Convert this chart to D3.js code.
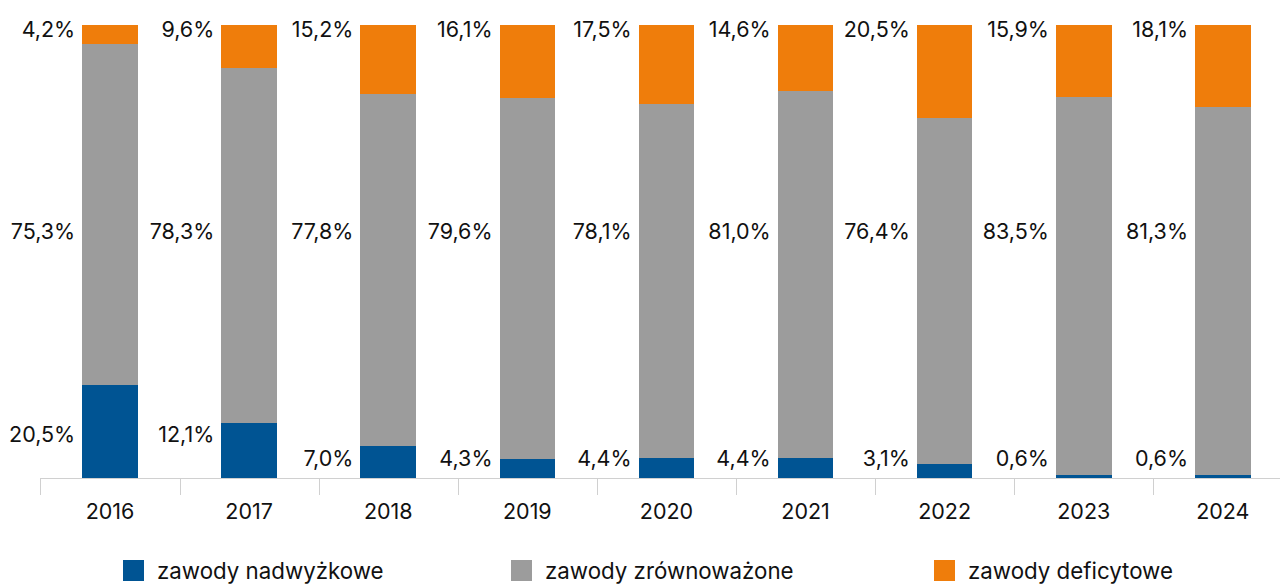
<!DOCTYPE html>
<html>
<head>
<meta charset="utf-8">
<script src="https://cdn.jsdelivr.net/npm/d3@7"></script>
<style>
  html, body { margin: 0; padding: 0; background: #fff; }
  #chart { width: 1280px; height: 584px; overflow: hidden; }
  text { font-family: Inter, "Noto Sans", sans-serif; fill: #111; }
</style>
</head>
<body>
<div id="chart"></div>
<script>
// Data
const years = ['2016', '2017', '2018', '2019', '2020', '2021', '2022', '2023', '2024'];
const seriesNames = ['zawody nadwyżkowe', 'zawody zrównoważone', 'zawody deficytowe'];
const nadwyzkowe = [20.5, 12.1, 7.0, 4.3, 4.4, 4.4, 3.1, 0.6, 0.6];
const zrownowazone = [75.3, 78.3, 77.8, 79.6, 78.1, 81.0, 76.4, 83.5, 81.3];
const deficytowe = [4.2, 9.6, 15.2, 16.1, 17.5, 14.6, 20.5, 15.9, 18.1];
const colors = ['#005493', '#9c9c9c', '#ef7d0b'];

const width = 1280, height = 584;
const fontSize = '21.5px';
const svg = d3.select('#chart').append('svg')
    .attr('width', width)
    .attr('height', height);

const rows = years.map((yr, i) => ({
    year: yr,
    nadwyzkowe: nadwyzkowe[i],
    zrownowazone: zrownowazone[i],
    deficytowe: deficytowe[i]
}));
const keys = ['nadwyzkowe', 'zrownowazone', 'deficytowe'];
const stacked = d3.stack().keys(keys)(rows);

const x = d3.scaleBand()
    .domain(years)
    .range([40.5, 1292.4])
    .paddingInner(0.6)
    .paddingOuter(0.3);

const y = d3.scaleLinear()
    .domain([0, 100])
    .range([478, 25]);

// axis line + ticks between categories
const step = x.step();
svg.append('line')
    .attr('x1', 40.5).attr('x2', width)
    .attr('y1', 478.5).attr('y2', 478.5)
    .attr('stroke', '#d0d0d0').attr('stroke-width', 1);

svg.selectAll('.tick-line')
    .data(years)
    .enter().append('line')
    .attr('class', 'tick-line')
    .attr('x1', d => Math.round(x(d) - step * 0.3) + 0.5)
    .attr('x2', d => Math.round(x(d) - step * 0.3) + 0.5)
    .attr('y1', 478).attr('y2', 495)
    .attr('stroke', '#d0d0d0').attr('stroke-width', 1);

// bars
svg.selectAll('.series')
    .data(stacked)
    .enter().append('g')
    .attr('class', 'series')
    .attr('fill', (d, i) => colors[i])
    .selectAll('rect')
    .data(d => d)
    .enter().append('rect')
    .attr('x', d => x(d.data.year))
    .attr('width', x.bandwidth())
    .attr('y', d => y(d[1]))
    .attr('height', d => y(d[0]) - y(d[1]))
    .attr('shape-rendering', 'crispEdges');

// year labels
svg.selectAll('.year-label')
    .data(years)
    .enter().append('text')
    .attr('class', 'year-label')
    .attr('x', d => x(d) + x.bandwidth() / 2)
    .attr('y', 518.5)
    .attr('text-anchor', 'middle')
    .style('font-size', fontSize)
    .text(d => d);

// value labels, left of the bars
const fmt = v => v.toFixed(1).replace('.', ',') + '%';
function addLabels(values, posFn) {
    svg.append('g').selectAll('text')
        .data(values)
        .enter().append('text')
        .attr('x', (d, i) => x(years[i]) - 7)
        .attr('y', (d, i) => posFn(d, i))
        .attr('dy', '0.35em')
        .attr('text-anchor', 'end')
        .style('font-size', fontSize)
        .text(d => fmt(d));
}
addLabels(deficytowe, () => y(99));
addLabels(zrownowazone, () => y(54.5));
addLabels(nadwyzkowe, d => d >= 10 ? y(9.5) : y(4.4));

// legend
const legendX = [123, 511, 934];
const legend = svg.selectAll('.legend')
    .data(seriesNames)
    .enter().append('g')
    .attr('class', 'legend')
    .attr('transform', (d, i) => `translate(${legendX[i]}, 560)`);
legend.append('rect')
    .attr('width', 21).attr('height', 21)
    .attr('fill', (d, i) => colors[i]);
legend.append('text')
    .attr('x', 34)
    .attr('y', 11)
    .attr('dy', '0.35em')
    .style('font-size', '22.3px')
    .text(d => d);
</script>
</body>
</html>
